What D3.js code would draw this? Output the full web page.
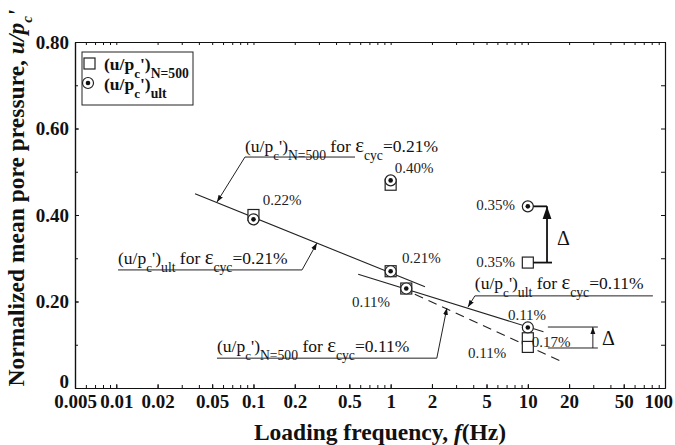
<!DOCTYPE html>
<html lang="en">
<head>
    <meta charset="UTF-8">
    <title>Normalized mean pore pressure vs loading frequency</title>
    <style>
        body { margin: 0; padding: 0; background: #fff; }
        svg { display: block; }
        svg text { font-family: "Liberation Serif", "Times New Roman", serif; }
        .axis path, .axis line { stroke: #111; }
        .axis text { font-size: 19px; font-weight: bold; fill: #111; }
        .note { font-size: 15px; fill: #222; }
    </style>
</head>
<body>
    <div id="chart"></div>

    <script src="https://d3js.org/d3.v7.min.js"></script>
    <script>
        // Data
        const freqTicks = [0.005, 0.01, 0.02, 0.05, 0.1, 0.2, 0.5, 1, 2, 5, 10, 20, 50, 100];
        const pressureTicks = [0, 0.2, 0.4, 0.6, 0.8];

        // (u/pc')N=500 -> square markers
        const n500Freq = [0.1, 1, 1, 1.3, 10, 10, 10];
        const n500Value = [0.40, 0.47, 0.27, 0.23, 0.29, 0.115, 0.095];

        // (u/pc')ult -> circle markers
        const ultFreq = [0.1, 1, 1, 1.3, 10, 10];
        const ultValue = [0.39, 0.48, 0.27, 0.23, 0.42, 0.14];

        // trend lines
        const fit021Freq = [0.0375, 1.78];
        const fit021Value = [0.449, 0.234];
        const fitUlt011Freq = [0.58, 13];
        const fitUlt011Value = [0.263, 0.130];
        const fitN500011Freq = [1.5, 18.6];
        const fitN500011Value = [0.217, 0.058];

        const width = 675, height = 445;
        const margin = { top: 42, right: 10, bottom: 57, left: 75 };
        const serif = '"Liberation Serif", "Times New Roman", serif';

        const svg = d3.select("#chart").append("svg")
            .attr("width", width).attr("height", height);

        const x = d3.scaleLog().domain([0.005, 100]).range([margin.left, width - margin.right]);
        const y = d3.scaleLinear().domain([0, 0.8]).range([height - margin.bottom, margin.top]);

        // arrow head
        svg.append("defs").append("marker")
            .attr("id", "arrow")
            .attr("viewBox", "0 0 10 10")
            .attr("refX", 10).attr("refY", 5)
            .attr("markerWidth", 7).attr("markerHeight", 7)
            .attr("orient", "auto-start-reverse")
            .append("path").attr("d", "M0,1.5 L10,5 L0,8.5 Z").attr("fill", "#111");

        // minor ticks for log axis
        const minorTicks = [];
        [0.001, 0.01, 0.1, 1, 10].forEach(d => {
            for (let k = 1; k < 10; k++) {
                const v = d * k;
                if (v >= 0.005 && v <= 100) minorTicks.push(v);
            }
        });
        minorTicks.push(100);
        const yMinor = d3.range(0, 0.81, 0.1);

        // Axes
        const xAxis = svg.append("g").attr("class", "axis")
            .attr("transform", `translate(0,${y(0)})`)
            .call(d3.axisBottom(x).tickValues(freqTicks).tickFormat(d => String(d)).tickSize(-4).tickSizeOuter(0).tickPadding(7));
        xAxis.selectAll(".tick text").filter(d => d === 100).attr("dx", "-0.35em");
        svg.append("g").attr("class", "axis")
            .attr("transform", `translate(0,${y(0)})`)
            .call(d3.axisBottom(x).tickValues(minorTicks).tickFormat("").tickSize(-3).tickSizeOuter(0));
        svg.append("g").attr("class", "axis")
            .attr("transform", `translate(0,${y(0.8)})`)
            .call(d3.axisTop(x).tickValues(minorTicks).tickFormat("").tickSize(-3).tickSizeOuter(0));
        const yAxis = svg.append("g").attr("class", "axis")
            .attr("transform", `translate(${x(0.005)},0)`)
            .call(d3.axisLeft(y).tickValues(pressureTicks).tickFormat(d => d === 0 ? "0" : d.toFixed(2)).tickSize(-4).tickSizeOuter(0).tickPadding(6));
        yAxis.selectAll(".tick text").filter(d => d === 0).attr("dy", "-0.05em");
        svg.append("g").attr("class", "axis")
            .attr("transform", `translate(${x(0.005)},0)`)
            .call(d3.axisLeft(y).tickValues(yMinor).tickFormat("").tickSize(-3).tickSizeOuter(0));
        svg.append("g").attr("class", "axis")
            .attr("transform", `translate(${x(100)},0)`)
            .call(d3.axisRight(y).tickValues(yMinor).tickFormat("").tickSize(-4).tickSizeOuter(0));

        svg.selectAll(".axis").attr("font-family", serif);
        svg.selectAll(".axis path.domain").attr("stroke-width", 1.2);

        // axis titles
        svg.append("text")
            .attr("x", (x(0.005) + x(100)) / 2 + 10).attr("y", 440)
            .attr("text-anchor", "middle")
            .style("font-size", "23.5px").style("font-weight", "bold").attr("fill", "#111")
            .call(t => {
                t.append("tspan").text("Loading frequency, ");
                t.append("tspan").attr("font-style", "italic").text("f");
                t.append("tspan").text("(Hz)");
            });

        svg.append("text")
            .attr("transform", `translate(24,${(y(0) + 8) / 2}) rotate(-90)`)
            .attr("text-anchor", "middle")
            .style("font-size", "23.5px").style("font-weight", "bold").attr("fill", "#111")
            .call(t => {
                t.append("tspan").text("Normalized mean pore pressure, ");
                t.append("tspan").attr("font-style", "italic").text("u/p");
                t.append("tspan").attr("font-style", "italic").attr("font-size", "15px").attr("baseline-shift", "sub").text("c");
                t.append("tspan").attr("font-style", "italic").text("'");
            });

        // (u/pc')sub text builder
        function formula(t, sub, strain) {
            t.append("tspan").text("(u/p");
            t.append("tspan").attr("font-size", "0.75em").attr("baseline-shift", "sub").text("c");
            t.append("tspan").text("')");
            t.append("tspan").attr("font-size", "0.78em").attr("baseline-shift", "sub").text(sub);
            if (strain) {
                t.append("tspan").text(" for ");
                t.append("tspan").attr("font-size", "1.2em").text("ε");
                t.append("tspan").attr("font-size", "0.78em").attr("baseline-shift", "sub").text("cyc");
                t.append("tspan").text("=" + strain);
            }
        }

        // trend lines
        const line = d3.line().x(d => x(d[0])).y(d => y(d[1]));
        svg.append("path")
            .attr("d", line(d3.zip(fit021Freq, fit021Value)))
            .attr("fill", "none").attr("stroke", "#222").attr("stroke-width", 1.1);
        svg.append("path")
            .attr("d", line(d3.zip(fitUlt011Freq, fitUlt011Value)))
            .attr("fill", "none").attr("stroke", "#222").attr("stroke-width", 1.1);
        svg.append("path")
            .attr("d", line(d3.zip(fitN500011Freq, fitN500011Value)))
            .attr("fill", "none").attr("stroke", "#222").attr("stroke-width", 1.1)
            .attr("stroke-dasharray", "9,6");

        // markers
        svg.selectAll(".sq")
            .data(d3.zip(n500Freq, n500Value))
            .enter().append("rect")
            .attr("class", "sq")
            .attr("x", d => x(d[0]) - 5.5).attr("y", d => y(d[1]) - 5.5)
            .attr("width", 11).attr("height", 11)
            .attr("fill", "#fff").attr("stroke", "#222").attr("stroke-width", 1.2);

        const ult = svg.selectAll(".ult")
            .data(d3.zip(ultFreq, ultValue))
            .enter().append("g").attr("class", "ult")
            .attr("transform", d => `translate(${x(d[0])},${y(d[1])})`);
        ult.append("circle").attr("r", 5.5).attr("fill", "#fff").attr("stroke", "#222").attr("stroke-width", 1.2);
        ult.append("circle").attr("r", 2.3).attr("fill", "#111");

        // strain labels next to points
        const pointNotes = [
            { t: "0.22%", f: 0.117, v: 0.423, a: "start" },
            { t: "0.40%", f: 1.07, v: 0.497, a: "start" },
            { t: "0.21%", f: 1.21, v: 0.289, a: "start" },
            { t: "0.11%", f: 0.522, v: 0.187, a: "start" },
            { t: "0.35%", f: 8.05, v: 0.412, a: "end" },
            { t: "0.35%", f: 8.05, v: 0.280, a: "end" },
            { t: "0.11%", f: 7.16, v: 0.157, a: "start" },
            { t: "0.11%", f: 3.66, v: 0.069, a: "start" },
            { t: "0.17%", f: 10.7, v: 0.095, a: "start" }
        ];
        svg.selectAll(".pn")
            .data(pointNotes)
            .enter().append("text")
            .attr("class", "note")
            .attr("x", d => x(d.f)).attr("y", d => y(d.v))
            .attr("text-anchor", d => d.a)
            .text(d => d.t);

        // annotations with underline and leader arrow
        const leaders = [
            { sub: "N=500", s: "0.21%", f0: 0.0867, f1: 0.55, vText: 0.546, vLine: 0.534, fTip: 0.0542, vTip: 0.430, fromEnd: false },
            { sub: "ult", s: "0.21%", f0: 0.0103, f1: 0.226, vText: 0.287, vLine: 0.273, fTip: 0.290, vTip: 0.335, fromEnd: true },
            { sub: "ult", s: "0.11%", f0: 4.11, f1: 81.6, vText: 0.229, vLine: 0.213, fTip: 3.66, vTip: 0.187, fromEnd: false },
            { sub: "N=500", s: "0.11%", f0: 0.0542, f1: 2.17, vText: 0.083, vLine: 0.069, fTip: 2.57, vTip: 0.185, fromEnd: true }
        ];
        leaders.forEach(d => {
            svg.append("text")
                .attr("x", x(d.f0)).attr("y", y(d.vText))
                .style("font-size", "17.5px").attr("fill", "#111")
                .call(t => formula(t, d.sub, d.s));
            svg.append("line")
                .attr("x1", x(d.f0)).attr("x2", x(d.f1))
                .attr("y1", y(d.vLine)).attr("y2", y(d.vLine))
                .attr("stroke", "#222").attr("stroke-width", 1);
            const fs = d.fromEnd ? d.f1 : d.f0;
            svg.append("line")
                .attr("x1", x(fs)).attr("y1", y(d.vLine))
                .attr("x2", x(d.fTip)).attr("y2", y(d.vTip))
                .attr("stroke", "#222").attr("stroke-width", 1)
                .attr("marker-end", "url(#arrow)");
        });

        // delta bracket between 0.35% points
        svg.append("line").attr("x1", x(10) + 5.5).attr("x2", x(13.8)).attr("y1", y(0.42)).attr("y2", y(0.42)).attr("stroke", "#111").attr("stroke-width", 1.8);
        svg.append("line").attr("x1", x(10) + 5.5).attr("x2", x(15)).attr("y1", y(0.29)).attr("y2", y(0.29)).attr("stroke", "#111").attr("stroke-width", 1.8);
        svg.append("line").attr("x1", x(13.8)).attr("x2", x(13.8)).attr("y1", y(0.29)).attr("y2", y(0.42))
            .attr("stroke", "#111").attr("stroke-width", 1.8).attr("marker-end", "url(#arrow)");
        svg.append("text").attr("x", x(16.3)).attr("y", y(0.33)).style("font-size", "20px").attr("fill", "#111").text("Δ");

        // delta bracket at 10 Hz
        svg.append("line").attr("x1", x(14)).attr("x2", x(32.4)).attr("y1", y(0.141)).attr("y2", y(0.141)).attr("stroke", "#222").attr("stroke-width", 1);
        svg.append("line").attr("x1", x(14)).attr("x2", x(32.4)).attr("y1", y(0.0925)).attr("y2", y(0.0925)).attr("stroke", "#222").attr("stroke-width", 1);
        svg.append("line").attr("x1", x(29.8)).attr("x2", x(29.8)).attr("y1", y(0.0925)).attr("y2", y(0.141))
            .attr("stroke", "#222").attr("stroke-width", 1).attr("marker-end", "url(#arrow)");
        svg.append("text").attr("x", x(34.7)).attr("y", y(0.1)).style("font-size", "20px").attr("fill", "#111").text("Δ");

        // legend
        const lg = svg.append("g");
        lg.append("rect").attr("x", 82).attr("y", 52).attr("width", 111).attr("height", 53)
            .attr("fill", "#fff").attr("stroke", "#222").attr("stroke-width", 1);
        lg.append("rect").attr("x", 84).attr("y", 58).attr("width", 11).attr("height", 11)
            .attr("fill", "#fff").attr("stroke", "#222").attr("stroke-width", 1.2);
        lg.append("circle").attr("cx", 88).attr("cy", 83).attr("r", 5.5)
            .attr("fill", "#fff").attr("stroke", "#222").attr("stroke-width", 1.2);
        lg.append("circle").attr("cx", 88).attr("cy", 83).attr("r", 2.3).attr("fill", "#111");
        lg.append("text").attr("x", 104).attr("y", 70)
            .style("font-size", "17.5px").style("font-weight", "bold").attr("fill", "#111")
            .call(t => formula(t, "N=500"));
        lg.append("text").attr("x", 104).attr("y", 90)
            .style("font-size", "17.5px").style("font-weight", "bold").attr("fill", "#111")
            .call(t => formula(t, "ult"));
    </script>
</body>
</html>
